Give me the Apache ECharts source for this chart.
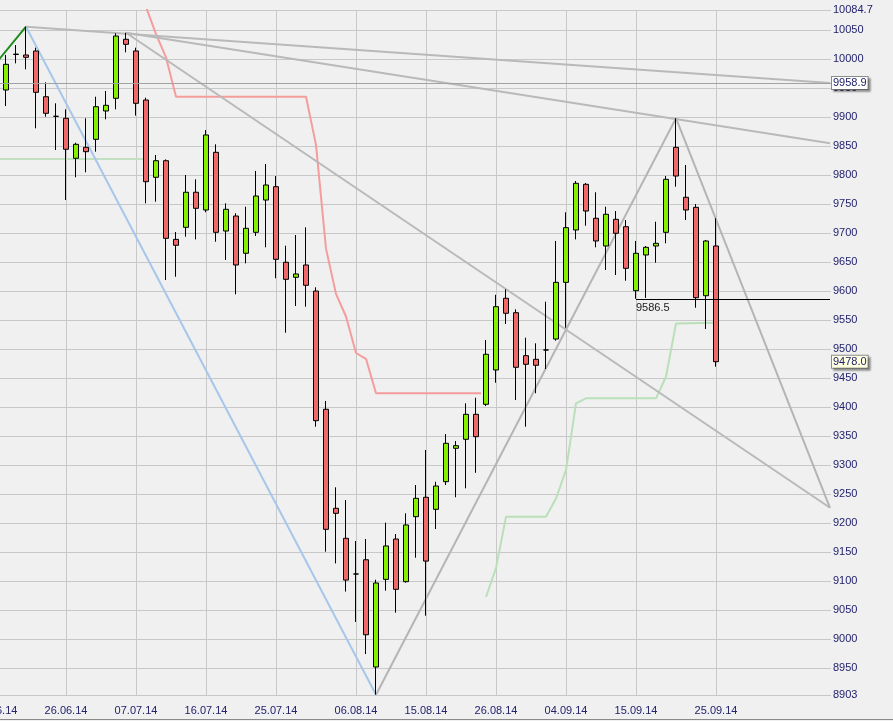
<!DOCTYPE html>
<html>
<head>
<meta charset="utf-8">
<script src="https://cdn.jsdelivr.net/npm/echarts@6/dist/echarts.min.js"></script>
<style>
html,body{margin:0;padding:0;background:#f0f0f0;}
#chart{width:893px;height:721px;}
</style>
</head>
<body>
<div id="chart"></div>
<script>
// ---- categories (trading days; index 0 = 17.06.14, candles start at index 1) ----
const dates = [
 '17.06.14','18.06.14','19.06.14','20.06.14','23.06.14','24.06.14','25.06.14','26.06.14','27.06.14','30.06.14',
 '01.07.14','02.07.14','03.07.14','04.07.14','07.07.14','08.07.14','09.07.14','10.07.14','11.07.14','14.07.14',
 '15.07.14','16.07.14','17.07.14','18.07.14','21.07.14','22.07.14','23.07.14','24.07.14','25.07.14','28.07.14',
 '29.07.14','30.07.14','31.07.14','01.08.14','04.08.14','05.08.14','06.08.14','07.08.14','08.08.14','11.08.14',
 '12.08.14','13.08.14','14.08.14','15.08.14','18.08.14','19.08.14','20.08.14','21.08.14','22.08.14','25.08.14',
 '26.08.14','27.08.14','28.08.14','29.08.14','01.09.14','02.09.14','03.09.14','04.09.14','05.09.14','08.09.14',
 '09.09.14','10.09.14','11.09.14','12.09.14','15.09.14','16.09.14','17.09.14','18.09.14','19.09.14','22.09.14',
 '23.09.14','24.09.14','25.09.14','26.09.14','29.09.14','30.09.14','01.10.14','02.10.14','03.10.14','06.10.14',
 '07.10.14','08.10.14','09.10.14','10.10.14'
];
const tickLabels = ['17.06.14','26.06.14','07.07.14','16.07.14','25.07.14','06.08.14','15.08.14','26.08.14','04.09.14','15.09.14','25.09.14'];

// ---- OHLC (candles 18.06.14 .. 25.09.14) ----
const opens = [9946.7,10008,10007.1,10014,9935.1,9901.3,9897.9,9828.9,9847.8,9861.6,9910.5,9932.4,10034.2,10014,9929.4,9796.1,9824.7,9689,9709.8,9770.3,9739.7,9839.2,9703.4,9729.3,9665,9701.2,9756.9,9779.9,9649.5,9623.6,9644.8,9599.9,9395.9,9225.1,9173.3,9111.7,9136.3,8951.3,9102.5,9172.1,9098.5,9210.6,9244.1,9223.3,9271,9328.6,9344.1,9387.2,9404.5,9463.7,9587.4,9562.5,9488.4,9482.1,9498.2,9517.1,9614.9,9705.2,9784,9725.4,9677.6,9723.6,9710.9,9600.5,9662.1,9677.6,9701.2,9847.8,9761.6,9744.3,9591.8,9677.6];
const closes = [9991,10008.6,10003.1,9942.7,9906.5,9901.3,9844.4,9853,9840.3,9917.9,9920.3,10039.8,10025.5,9923.7,9788.5,9824.7,9690.8,9678.8,9770.3,9742.6,9869.1,9701.2,9740.9,9644.8,9708.1,9763.8,9782.8,9654.6,9620.1,9629.3,9609.8,9376.2,9188.8,9216.4,9101.3,9111.7,9006.9,9096.2,9160.1,9085.3,9196.3,9242.3,9134,9263.5,9337.2,9333.1,9387.2,9348.6,9490.8,9572.9,9561.5,9468.3,9473.5,9471.8,9498.2,9614.9,9709.2,9785.7,9737.9,9686.2,9732.3,9699.5,9639.1,9665,9675.3,9682.2,9792.6,9798.3,9739.7,9588.4,9686.2,9478];
const lows = [9919,9992.7,9982.4,9880.6,9900.6,9843.2,9756.9,9796.1,9804.7,9840.3,9896.1,9913.4,10011.7,9902.4,9751.2,9754,9618.9,9624.6,9693.6,9689,9735.7,9685,9653.4,9594.2,9647.7,9694.8,9675.3,9621.9,9528,9574.1,9572.9,9365.8,9150.2,9130,9081.4,9029,8973.6,8903.5,9083,9045,9096.8,9139.8,9039.8,9189.3,9265.2,9244.1,9259.5,9286.3,9401.5,9441.7,9543,9411.9,9365.8,9423.5,9465.4,9514.2,9536.6,9689,9712.6,9675.3,9636.2,9627.5,9617.7,9586.5,9588,9648.8,9682.2,9779.9,9722.4,9571.1,9534.4,9469.4];
const highs = [10007.1,10024.3,10055.9,10019.7,9960,9923.7,9913.4,9855.8,9897.9,9935.1,9945,10044.5,10045.5,10019.7,9933.4,9834.6,9827,9701.7,9800.1,9792.6,9877.7,9853,9751.2,9734,9745.4,9807,9819,9798.3,9678.1,9696.5,9709.8,9606.3,9410.2,9261.3,9239.4,9168.6,9172.1,9101.9,9200.3,9180.7,9216.4,9265.2,9325.7,9270.9,9353.2,9341.2,9406.2,9415.9,9515.4,9593.4,9602.9,9568.4,9519.4,9509.7,9581.5,9686.2,9735.7,9789.7,9786.3,9770.3,9745.4,9737.9,9722.4,9686.2,9677.6,9719.5,9798.3,9898,9817.3,9750,9687.9,9725.4];

// ---- overlay lines: [day index, price] ; 83.4 = right edge of the chart ----
const oldStop   = [[0, 9827.7], [14.7, 9827.7]];
const redStop   = [[15,10090],[16,10043],[17,10003],[18,9935],[31,9935],[32,9852],[33,9673],[34,9595],[35,9556],[36,9493],[37,9483],[38,9423.5],[48.5,9423.5]];
const greenStop = [[49,9072],[50,9122],[51,9210.6],[55,9210.6],[56,9242],[57,9291],[58,9406],[59,9414.8],[66,9414.8],[67,9452],[68,9544],[72,9545]];
const zigGreen  = [[0, 9993], [3, 10055.9]];
const zigBlue   = [[3, 10055.9], [38, 8903.5]];
const zigGray   = [[38, 8903.5], [68, 9898], [83.4, 9226]];
const trendA    = [[3, 10055.9], [83.4, 9958.9]];
const trendB    = [[13, 10045.5], [83.4, 9855]];
const trendC    = [[13, 10045.5], [83.4, 9226]];
const supportStart = 64;
const supportLevel = 9586.5;
const yMin = 8903, yMax = 10084.7;

// ---- build ----
const labelSet = new Set(tickLabels.map(d => dates.indexOf(d)));
const candleData = opens.map((o, i) => [i + 1, o, closes[i], lows[i], highs[i]]);
const lastClose = closes[closes.length - 1];
const rightEdge = trendA[trendA.length - 1][0];
const navy = '#22226e';
const gridColor = '#c8c8c8';

function lineSeries(data, color, width) {
  return {type: 'line', xAxisIndex: 1, data: data, symbol: 'none', silent: true,
          lineStyle: {color: color, width: width}, z: 2};
}

const chart = echarts.init(document.getElementById('chart'), null, {renderer: 'canvas'});
const trendASeries = lineSeries(trendA, '#b9b9b9', 2);
trendASeries.markLine = {
  silent: true, symbol: ['none', 'none'], animation: false,
  data: [
    {yAxis: trendA[1][1], lineStyle: {color: '#a2a2a2', width: 1, type: 'solid'},
     label: {show: true, position: 'end', distance: 1, formatter: trendA[1][1].toFixed(1),
             color: navy, fontSize: 11, fontFamily: 'Liberation Sans, Arial, sans-serif',
             backgroundColor: '#ffffff', borderColor: '#8c8c8c', borderWidth: 1, padding: [1, 1, 0, 1],
             shadowColor: 'rgba(0,0,0,0.3)', shadowBlur: 2, shadowOffsetX: 2, shadowOffsetY: 2}},
    {yAxis: lastClose, lineStyle: {color: 'rgba(0,0,0,0)', width: 1, type: 'solid'},
     label: {show: true, position: 'end', distance: 1, formatter: lastClose.toFixed(1),
             color: navy, fontSize: 11, fontFamily: 'Liberation Sans, Arial, sans-serif',
             backgroundColor: '#ffffe1', borderColor: '#8c8c8c', borderWidth: 1, padding: [1, 1, 0, 1],
             shadowColor: 'rgba(0,0,0,0.3)', shadowBlur: 2, shadowOffsetX: 2, shadowOffsetY: 2}},
    [
      {coord: [supportStart, supportLevel], lineStyle: {color: '#000000', width: 1, type: 'solid'},
       label: {show: true, position: 'insideStartBottom', distance: [0, 4], formatter: supportLevel.toFixed(1),
               color: '#222222', fontSize: 11, fontFamily: 'Liberation Sans, Arial, sans-serif'}},
      {coord: [rightEdge, supportLevel]}
    ]
  ]
};

const option = {
  backgroundColor: '#f0f0f0',
  animation: false,
  textStyle: {fontFamily: 'Liberation Sans, Arial, sans-serif'},
  grid: {left: -9, top: 10, width: 840, bottom: 26, containLabel: false, outerBoundsMode: 'none'},
  xAxis: [
    {type: 'category', data: dates, boundaryGap: true,
     axisLine: {show: false}, axisTick: {show: false},
     axisLabel: {interval: (i) => labelSet.has(i), color: navy, fontSize: 11, margin: 10},
     splitLine: {show: true, interval: (i) => labelSet.has(i), alignWithLabel: true,
                 lineStyle: {color: gridColor, width: 1}}},
    {type: 'value', min: -0.5, max: dates.length - 0.5, show: false, splitLine: {show: false}}
  ],
  yAxis: {type: 'value', position: 'right', min: yMin, max: yMax, splitNumber: 24,
          axisLine: {show: false}, axisTick: {show: false},
          axisLabel: {color: navy, fontSize: 11, margin: 2,
                      formatter: (v) => String(Math.round(v * 10) / 10)},
          splitLine: {show: true, lineStyle: {color: gridColor, width: 1}}},
  series: [
    lineSeries(oldStop, '#c2dfc2', 2),
    lineSeries(redStop, '#f59c9c', 2),
    lineSeries(greenStop, '#b9e0b9', 2),
    lineSeries(zigGreen, '#1e8a1e', 2),
    lineSeries(zigBlue, '#a7c7ea', 2),
    lineSeries(zigGray, '#b5b5b5', 2),
    trendASeries,
    lineSeries(trendB, '#b9b9b9', 2),
    lineSeries(trendC, '#b9b9b9', 2),
    {type: 'candlestick', xAxisIndex: 1, data: candleData, barWidth: 6, silent: true, z: 3,
     encode: {x: 0, y: [1, 2, 3, 4]},
     itemStyle: {color: '#84f000', color0: '#f06868', borderColor: '#000000', borderColor0: '#000000',
                 borderColorDoji: '#000000', borderWidth: 1}}
  ],
  graphic: [
    {type: 'line', silent: true, shape: {x1: 0, y1: 719.5, x2: 893, y2: 719.5},
     style: {stroke: '#8a8a8a', lineWidth: 1}}
  ]
};
chart.setOption(option);
</script>
</body>
</html>
